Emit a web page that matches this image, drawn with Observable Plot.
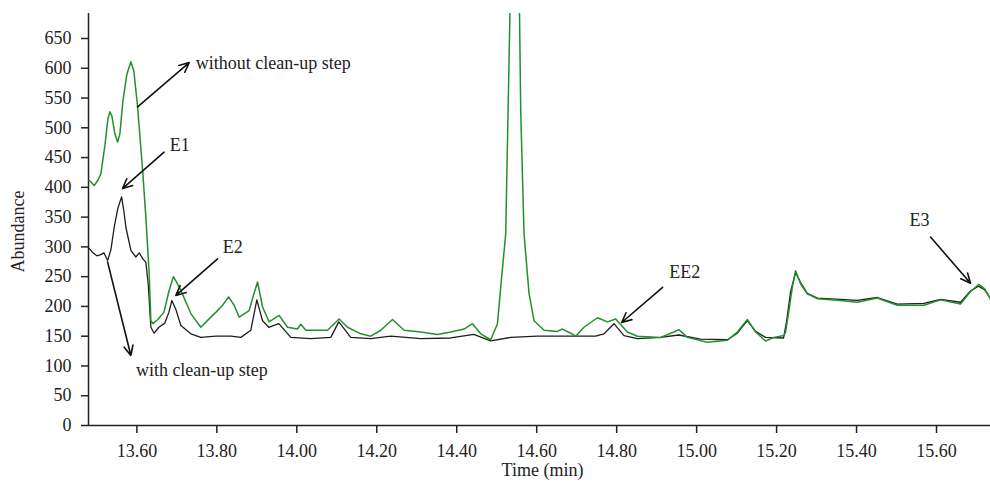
<!DOCTYPE html>
<html>
<head>
<meta charset="utf-8">
<script src="https://cdn.jsdelivr.net/npm/d3@7"></script>
<script src="https://cdn.jsdelivr.net/npm/@observablehq/plot@0.6"></script>
<style>
  html, body { margin: 0; padding: 0; background: #fff; }
  #chart svg { display: block; }
  #chart svg, #chart svg text, #chart svg g { font-family: "Liberation Serif", "Times New Roman", Times, serif !important; }
</style>
</head>
<body>
<div id="chart"></div>
<script>
// Time (min) and abundance, "without clean-up step" (green trace)
const greenTime = [13.48,13.485,13.4933,13.5025,13.51,13.52,13.5275,13.5325,13.5375,13.545,13.5518,13.5575,13.565,13.575,13.585,13.5925,13.6018,13.6143,13.6225,13.6308,13.635,13.64,13.6525,13.6675,13.68,13.6913,13.70,13.71,13.735,13.76,13.785,13.7975,13.8143,13.8293,13.8433,13.8558,13.8808,13.89,13.9018,13.9143,13.9308,13.9558,13.9768,14.0018,14.01,14.0225,14.0433,14.0768,14.1058,14.1268,14.16,14.185,14.21,14.2393,14.2683,14.31,14.3518,14.385,14.4183,14.4393,14.46,14.485,14.5018,14.51,14.5225,14.5283,14.535,14.545,14.5558,14.56,14.5683,14.5808,14.5933,14.6183,14.6518,14.6643,14.685,14.6975,14.7183,14.7518,14.7768,14.7975,14.8268,14.8518,14.91,14.9433,14.9558,14.9768,15.0268,15.0768,15.1018,15.1268,15.1475,15.1725,15.1933,15.2183,15.2225,15.2308,15.2393,15.2475,15.26,15.2768,15.3018,15.36,15.4018,15.4518,15.5018,15.5683,15.61,15.66,15.685,15.7058,15.72,15.735];
const greenAbund = [412,409,403,412,423,470,515,527,520,490,476,490,545,590,611,595,535,429,350,255,176,171,178,190,225,250,240,227,188,165,182,190,202,216,202,182,193,215,241,199,174,185,165,162,170,160,160,160,179,165,154,150,160,178,160,157,153,157,162,171,154,144,171,232,322,524,760,1000,760,529,322,222,176,160,158,162,155,150,165,181,174,179,157,150,148,157,161,148,140,143,157,178,157,142,148,151,157,193,232,260,238,221,213,210,207,214,202,202,211,204,225,237,230,212];

// "with clean-up step" (black trace)
const blackTime = [13.48,13.49,13.50,13.51,13.5175,13.5268,13.535,13.5433,13.5525,13.5618,13.5675,13.5725,13.585,13.5975,13.6058,13.615,13.6225,13.6283,13.635,13.6433,13.655,13.67,13.68,13.6875,13.6975,13.71,13.735,13.76,13.7975,13.835,13.86,13.885,13.90,13.9143,13.93,13.955,13.985,14.035,14.085,14.105,14.135,14.185,14.235,14.31,14.385,14.4425,14.485,14.535,14.6018,14.685,14.7475,14.7683,14.7933,14.8183,14.8518,14.91,14.955,15.01,15.0768,15.1018,15.1268,15.1475,15.1725,15.2175,15.225,15.235,15.2475,15.26,15.2768,15.3018,15.36,15.4018,15.4518,15.5018,15.5683,15.61,15.66,15.685,15.705,15.72,15.735];
const blackAbund = [298,290,285,287,290,277,295,333,365,384,360,333,294,283,290,280,274,238,165,155,165,172,190,210,195,168,154,148,150,150,148,160,211,176,165,171,148,146,148,174,148,146,150,146,147,153,142,148,150,150,150,154,171,151,146,148,152,145,144,155,176,158,148,147,175,225,257,240,222,214,212,210,215,204,205,212,207,226,234,228,214];

// Axis ticks
const xTicks = [13.6,13.8,14.0,14.2,14.4,14.6,14.8,15.0,15.2,15.4,15.6];
const yTicks = [0,50,100,150,200,250,300,350,400,450,500,550,600,650];

// Annotation arrows (tail -> head, in time / abundance units)
const arrowLabels = ["without clean-up step", "E1", "E2", "with clean-up step", "EE2", "E3"];
const arrowFromT = [13.6018, 13.668, 13.8018, 13.5268, 14.915, 15.585];
const arrowFromV = [535, 459, 280, 274.5, 232, 316.5];
const arrowToT   = [13.7308, 13.564, 13.6975, 13.585, 14.8125, 15.685];
const arrowToV   = [609.6, 398, 218.5, 117.6, 173, 239];
// Label anchor points
const labelT = [13.7475, 13.7075, 13.84, 13.5975, 14.97, 15.5575];
const labelV = [608, 470.6, 299.7, 92.4, 257.6, 344.5];
const labelAlign = ["start", "middle", "middle", "start", "middle", "middle"];

const green = greenTime.map((t, i) => ({t, v: greenAbund[i]}));
const black = blackTime.map((t, i) => ({t, v: blackAbund[i]}));
const arrows = arrowLabels.map((name, i) => ({name, x1: arrowFromT[i], y1: arrowFromV[i], x2: arrowToT[i], y2: arrowToV[i]}));
const labels = arrowLabels.map((name, i) => ({name, t: labelT[i], v: labelV[i], a: labelAlign[i]}));

const xDomain = [13.479, 15.735];
const yDomain = [0, 692];
const serif = "'Liberation Serif', 'Times New Roman', Times, serif";

const chart = Plot.plot({
  width: 990,
  height: 488,
  marginLeft: 88,
  marginRight: 0,
  marginTop: 13,
  marginBottom: 63,
  x: {domain: xDomain},
  y: {domain: yDomain},
  style: {fontFamily: serif, fontSize: "18px", background: "#fff", color: "#222"},
  marks: [
    Plot.axisX({ticks: xTicks, tickFormat: d => d.toFixed(2), tickSize: 8, tickPadding: 11, label: null, fontSize: 18, fontFamily: serif, strokeWidth: 1.5}),
    Plot.axisY({ticks: yTicks, tickSize: 7, tickPadding: 10, label: null, fontSize: 18, fontFamily: serif, strokeWidth: 1.5}),
    Plot.ruleX([xDomain[0]], {stroke: "#222", strokeWidth: 1.5}),
    Plot.ruleY([0], {stroke: "#222", strokeWidth: 1.5}),
    Plot.line(black, {x: "t", y: "v", stroke: "#1e1e1e", strokeWidth: 1.3, clip: true}),
    Plot.line(green, {x: "t", y: "v", stroke: "#23912a", strokeWidth: 1.5, clip: true}),
    Plot.arrow(arrows, {x1: "x1", y1: "y1", x2: "x2", y2: "y2", stroke: "#111", strokeWidth: 1.6, headLength: 10, headAngle: 50}),
    Plot.text(labels.filter(d => d.a === "start"), {x: "t", y: "v", text: "name", textAnchor: "start", fontSize: 18, fontFamily: serif, fill: "#222"}),
    Plot.text(labels.filter(d => d.a === "middle"), {x: "t", y: "v", text: "name", textAnchor: "middle", fontSize: 18, fontFamily: serif, fill: "#222"}),
    Plot.text(["Time (min)"], {frameAnchor: "bottom", lineAnchor: "middle", textAnchor: "middle", dx: 3, dy: 45, fontSize: 18, fontFamily: serif, fill: "#222"}),
    Plot.text(["Abundance"], {frameAnchor: "left", lineAnchor: "middle", textAnchor: "middle", rotate: -90, dx: -70, dy: 12, fontSize: 18, fontFamily: serif, fill: "#222"})
  ]
});
document.getElementById("chart").appendChild(chart);
</script>
</body>
</html>
